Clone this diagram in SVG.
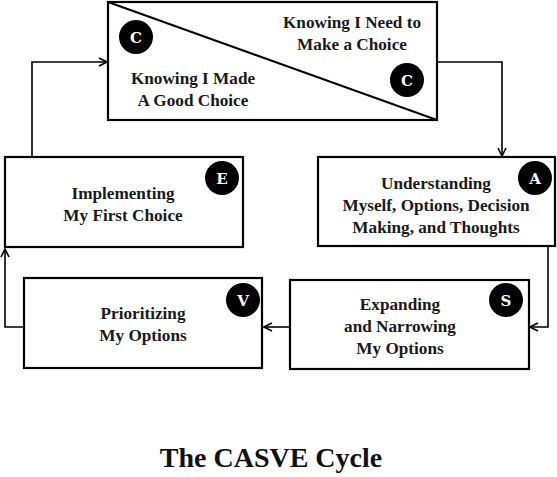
<svg xmlns="http://www.w3.org/2000/svg" width="557" height="477" viewBox="0 0 557 477">
<style>
.box{fill:#fff;stroke:#000;stroke-width:2.2}
.conn{fill:none;stroke:#000;stroke-width:1.6}
.t{font-family:"Liberation Serif","Times New Roman",serif;font-weight:bold;font-size:17.2px;fill:#1a1a1a;text-anchor:middle}
.badge{fill:#000}
.bl{font-family:"DejaVu Serif",serif;font-weight:bold;font-size:15px;fill:#fff;text-anchor:middle}
.title{font-family:"Liberation Serif","Times New Roman",serif;font-weight:bold;font-size:28px;fill:#111;text-anchor:middle}
</style>
<defs>
<marker id="arr" viewBox="0 0 10 10" refX="9" refY="5" markerWidth="10" markerHeight="10" markerUnits="userSpaceOnUse" orient="auto">
<path d="M1,1 L9,5 L1,9" fill="none" stroke="#000" stroke-width="1.6"/>
</marker>
</defs>
<rect width="557" height="477" fill="#fff"/>
<g id="connectors">
<polyline class="conn" points="32,157 32,62 107,62" marker-end="url(#arr)"/>
<polyline class="conn" points="438,62 502,62 502,156" marker-end="url(#arr)"/>
<polyline class="conn" points="548,247 548,327 530,327" marker-end="url(#arr)"/>
<polyline class="conn" points="290,327 264,327" marker-end="url(#arr)"/>
<polyline class="conn" points="24,327 5,327 5,249" marker-end="url(#arr)"/>
</g>
<g id="node-c">
<rect class="box" x="108" y="2" width="329" height="118"/>
<line x1="108" y1="2" x2="437" y2="120" stroke="#000" stroke-width="2"/>
<circle class="badge" cx="136" cy="37" r="17"/>
<text class="bl" x="136" y="42.5">C</text>
<circle class="badge" cx="407" cy="80" r="17"/>
<text class="bl" x="407" y="85.5">C</text>
<text class="t" x="352" y="28">Knowing I Need to</text>
<text class="t" x="352" y="50">Make a Choice</text>
<text class="t" x="193" y="84">Knowing I Made</text>
<text class="t" x="193" y="106">A Good Choice</text>
</g>
<g id="node-a">
<rect class="box" x="318" y="157" width="237" height="89"/>
<circle class="badge" cx="535" cy="178" r="17"/>
<text class="bl" x="535" y="183.5">A</text>
<text class="t" x="436" y="189">Understanding</text>
<text class="t" x="436" y="211">Myself, Options, Decision</text>
<text class="t" x="436" y="233">Making, and Thoughts</text>
</g>
<g id="node-s">
<rect class="box" x="290" y="280" width="239" height="89"/>
<circle class="badge" cx="506" cy="300" r="17"/>
<text class="bl" x="506" y="305.5">S</text>
<text class="t" x="400" y="310">Expanding</text>
<text class="t" x="400" y="332">and Narrowing</text>
<text class="t" x="400" y="354">My Options</text>
</g>
<g id="node-v">
<rect class="box" x="24" y="278" width="238" height="90"/>
<circle class="badge" cx="243" cy="300" r="17"/>
<text class="bl" x="243" y="305.5">V</text>
<text class="t" x="143" y="319">Prioritizing</text>
<text class="t" x="143" y="341">My Options</text>
</g>
<g id="node-e">
<rect class="box" x="5" y="157" width="238" height="90"/>
<circle class="badge" cx="222" cy="178" r="17"/>
<text class="bl" x="222" y="183.5">E</text>
<text class="t" x="123" y="199">Implementing</text>
<text class="t" x="123" y="221">My First Choice</text>
</g>
<g id="title">
<text class="title" x="271" y="467">The CASVE Cycle</text>
</g>
</svg>
